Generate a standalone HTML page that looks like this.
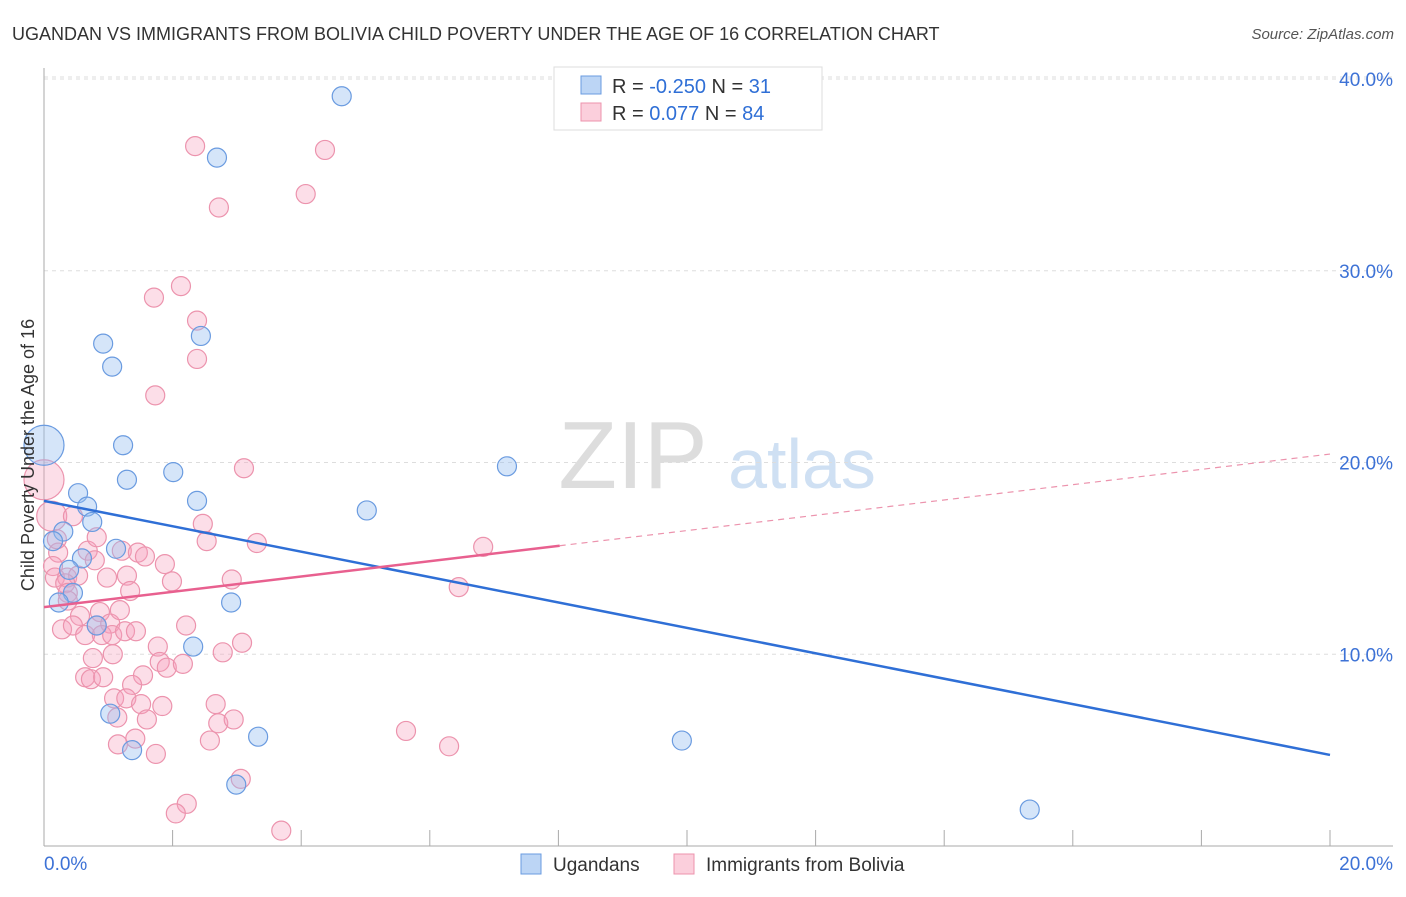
<!DOCTYPE html>
<html><head><meta charset="utf-8"><style>
body{margin:0;background:#fff;font-family:"Liberation Sans",sans-serif}
svg text{font-family:"Liberation Sans",sans-serif}
</style></head><body>
<svg width="1406" height="892" xmlns="http://www.w3.org/2000/svg">
<text x="12" y="40" font-size="18" fill="#333">UGANDAN VS IMMIGRANTS FROM BOLIVIA CHILD POVERTY UNDER THE AGE OF 16 CORRELATION CHART</text>
<text x="1394" y="39" font-size="15" fill="#555" font-style="italic" text-anchor="end">Source: ZipAtlas.com</text>
<g><text x="633" y="488" font-size="96" font-family="Liberation Serif" fill="#ddd" text-anchor="middle">ZIP</text><text x="802" y="488" font-size="70" fill="#cfe0f3" text-anchor="middle">atlas</text></g>
<g id="grid"></g><g id="axes"></g><g id="marks"></g>
<text transform="translate(34,455) rotate(-90)" font-size="18" fill="#333" text-anchor="middle">Child Poverty Under the Age of 16</text>
<g>
<rect x="554" y="67" width="268" height="63" fill="#fff" stroke="#ddd"/>
<rect x="581" y="76" width="20" height="18" fill="#bcd5f5" stroke="#6a9be0"/>
<rect x="581" y="103" width="20" height="18" fill="#fbcfdc" stroke="#ec93ad"/>
<text x="612" y="93" font-size="20" fill="#333">R = <tspan fill="#2f6fd6">-0.250</tspan>   N = <tspan fill="#2f6fd6">31</tspan></text>
<text x="612" y="120" font-size="20" fill="#333">R =  <tspan fill="#2f6fd6">0.077</tspan>   N = <tspan fill="#2f6fd6">84</tspan></text>
</g>
<g>
<rect x="521" y="854" width="20" height="20" fill="#bcd5f5" stroke="#6a9be0"/>
<text x="553" y="871" font-size="19" fill="#333">Ugandans</text>
<rect x="674" y="854" width="20" height="20" fill="#fbcfdc" stroke="#ec93ad"/>
<text x="706" y="871" font-size="19" fill="#333">Immigrants from Bolivia</text>
</g>
</svg>
<script>
const yTicks=[10,20,30,40];
const yTickLabels=["10.0%","20.0%","30.0%","40.0%"];
const xTickVals=[0,2,4,6,8,10,12,14,16,18,20];
const ugX=[4.63,2.69,2.44,0.92,1.06,0,1.23,1.29,2.01,7.2,0.53,2.38,0.67,0.75,5.02,0.3,0.14,1.12,0.59,0.39,0.45,0.23,2.91,0.82,2.32,1.03,3.33,1.37,9.92,2.99,15.33];
const ugY=[39.1,35.9,26.6,26.2,25.0,20.9,20.9,19.1,19.5,19.8,18.4,18.0,17.7,16.9,17.5,16.4,15.9,15.5,15.0,14.4,13.2,12.7,12.7,11.5,10.4,6.9,5.7,5.0,5.5,3.2,1.9];
const boX=[2.35,4.37,4.07,2.72,2.13,1.71,2.38,2.38,1.73,0,3.11,0.12,0.45,2.47,2.53,3.31,6.83,0.22,0.68,1.21,1.46,1.57,1.88,0.82,0.14,0.17,0.36,0.53,0.33,0.98,1.29,2.92,1.99,1.34,6.45,0.28,0.56,0.87,0.45,0.64,0.82,1.03,0.9,1.06,1.26,1.43,1.77,2.21,2.78,3.08,0.76,1.07,1.8,1.91,2.16,0.64,0.73,0.92,1.54,1.37,1.09,1.28,1.51,1.84,1.6,1.14,2.67,2.71,2.95,2.58,1.42,1.15,1.74,3.06,2.22,2.05,3.69,5.63,6.3,0.37,0.2,0.79,0.37,1.18];
const boY=[36.5,36.3,34.0,33.3,29.2,28.6,27.4,25.4,23.5,19.1,19.7,17.2,17.2,16.8,15.9,15.8,15.6,15.3,15.4,15.4,15.3,15.1,14.7,16.1,14.6,14.0,14.0,14.1,13.7,14.0,14.1,13.9,13.8,13.3,13.5,11.3,12.0,12.2,11.5,11.0,11.5,11.6,11.0,11.0,11.2,11.2,10.4,11.5,10.1,10.6,9.8,10.0,9.6,9.3,9.5,8.8,8.7,8.8,8.9,8.4,7.7,7.7,7.4,7.3,6.6,6.7,7.4,6.4,6.6,5.5,5.6,5.3,4.8,3.5,2.2,1.7,0.8,6.0,5.2,13.2,16.0,14.9,12.8,12.3];
const ugBig=[5]; const boBig={9:20,11:15};
const ugTrend=[18.0,4.75]; const boTrend=[12.46,20.44]; const boSolidEnd=8.02;
const NS="http://www.w3.org/2000/svg";
const sx=v=>44+v*64.3, sy=v=>846-v*19.175;
function mk(p,t,a){const e=document.createElementNS(NS,t);for(const k in a)e.setAttribute(k,a[k]);p.appendChild(e);return e;}
const grid=document.getElementById('grid'),axes=document.getElementById('axes'),marks=document.getElementById('marks');
yTicks.forEach((v,i)=>{
 const l=mk(grid,'line',{x1:44,x2:1393,y1:sy(v),y2:sy(v),stroke:'#ddd','stroke-dasharray':'4,4'});
 
 
 const t=mk(axes,'text',{x:1393,y:sy(v)+7,'font-size':19,fill:'#3d72d6','text-anchor':'end'});t.textContent=yTickLabels[i];
 
 
});
const l0=mk(grid,'line',{x1:44,x2:1393,y1:sy(40)-2,y2:sy(40)-2,stroke:'#ddd','stroke-dasharray':'4,4'});
mk(axes,'line',{x1:44,x2:44,y1:68,y2:846,stroke:'#aaa'});
const xa=mk(axes,'line',{x1:44,x2:1393,y1:846,y2:846,stroke:'#aaa'});


xTickVals.forEach(v=>{const t=mk(axes,'line',{x1:sx(v),x2:sx(v),y1:830,y2:846,stroke:'#aaa'});
 
 });
const xl0=mk(axes,'text',{x:44,y:870,'font-size':19,fill:'#3d72d6'});xl0.textContent='0.0%';


const xl1=mk(axes,'text',{x:1393,y:870,'font-size':19,fill:'#3d72d6','text-anchor':'end'});xl1.textContent='20.0%';


boX.forEach((x,i)=>{const c=mk(marks,'circle',{cx:sx(x),cy:sy(boY[i]),r:boBig[i]||9.5,fill:'rgba(246,160,188,0.35)',stroke:'#ec93ad','stroke-width':1.2});
 
 });
ugX.forEach((x,i)=>{const c=mk(marks,'circle',{cx:sx(x),cy:sy(ugY[i]),r:ugBig.includes(i)?20:9.5,fill:'rgba(150,190,240,0.4)',stroke:'#6a9be0','stroke-width':1.2});
 
 });
const bt=mk(marks,'line',{x1:sx(0),y1:sy(ugTrend[0]),x2:sx(20),y2:sy(ugTrend[1]),stroke:'#2f6fd6','stroke-width':2.5});


const pm=boTrend[0]+(boTrend[1]-boTrend[0])*boSolidEnd/20;
const pt=mk(marks,'line',{x1:sx(0),y1:sy(boTrend[0]),x2:sx(boSolidEnd),y2:sy(pm),stroke:'#e8608f','stroke-width':2.5});


const pd=mk(marks,'line',{x1:sx(boSolidEnd),y1:sy(pm),x2:sx(20),y2:sy(boTrend[1]),stroke:'#ec93ad','stroke-width':1.2,'stroke-dasharray':'6,5'});


</script>
</body></html>
